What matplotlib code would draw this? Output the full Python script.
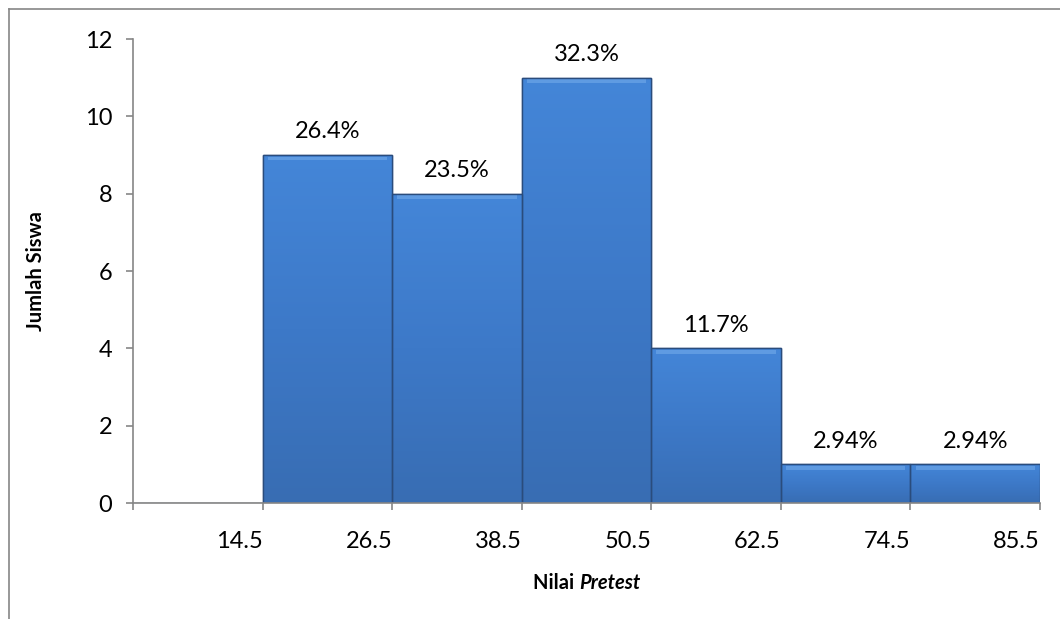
import numpy as np
import matplotlib
matplotlib.use("Agg")
import matplotlib.pyplot as plt
from matplotlib.patches import Rectangle
from matplotlib.lines import Line2D
from matplotlib.colors import LinearSegmentedColormap

# ── Data ─────────────────────────────────────────────────────────────────────
tick_labels = ["", "14.5", "26.5", "38.5", "50.5", "62.5", "74.5", "85.5"]
counts      = [0, 9, 8, 11, 4, 1, 1]
percent     = ["", "26.4%", "23.5%", "32.3%", "11.7%", "2.94%", "2.94%"]

plt.rcParams["font.family"] = ["Lato", "DejaVu Sans"]
FS = 17
FS_LAB = 14.5
AXIS_GRAY = "#868686"

fig = plt.figure(figsize=(10.6, 6.19), dpi=100)
ax = fig.add_axes([133 / 1060, 1 - 503 / 619, (1040 - 133) / 1060, (503 - 39) / 619])

# outer chart border (top + left only visible)
fig.add_artist(Line2D([9 / 1060, 1], [1 - 9 / 619, 1 - 9 / 619], color=AXIS_GRAY, lw=1.2))
fig.add_artist(Line2D([9 / 1060, 9 / 1060], [0, 1 - 9 / 619], color=AXIS_GRAY, lw=1.2))

# vertical gradient fill for the bars
grad = np.linspace(0, 1, 256).reshape(-1, 1)
cmap = LinearSegmentedColormap.from_list("bar", ["#386db3", "#3d79c8", "#4486d8"])

bars = ax.bar(np.arange(len(counts)), counts, width=1.0, align="edge",
              color="#3e7dcd", edgecolor="#2a4c7c", linewidth=1.0, zorder=2)
for b, h in zip(bars, counts):
    if h <= 0:
        continue
    x0, w = b.get_x(), b.get_width()
    im = ax.imshow(grad, extent=(x0, x0 + w, 0, h), origin="lower", cmap=cmap,
                   aspect="auto", zorder=2.1, interpolation="bicubic")
    im.set_clip_path(b)
    # bevel highlight on top
    ax.add_patch(Rectangle((x0 + 0.04, h - 0.14), w - 0.08, 0.1,
                           facecolor="#72aaea", edgecolor="none", alpha=0.6, zorder=2.2))
    ax.add_patch(Rectangle((x0, 0), w, h, facecolor="none",
                           edgecolor="#2a4c7c", linewidth=1.0, zorder=2.3))

for i, (h, p) in enumerate(zip(counts, percent)):
    if p:
        ax.annotate(p, (i + 0.5, h), xytext=(0, 9), textcoords="offset points",
                    ha="center", va="bottom", fontsize=FS, color="black")

ax.set_xlim(0, len(counts))
ax.set_ylim(0, 12)
ax.set_yticks(range(0, 13, 2))
ax.set_xticks(range(len(tick_labels)))
ax.set_xticklabels(tick_labels)
for lab in ax.get_xticklabels():
    lab.set_horizontalalignment("right")

for s in ["top", "right"]:
    ax.spines[s].set_visible(False)
for s in ["left", "bottom"]:
    ax.spines[s].set_color(AXIS_GRAY)
    ax.spines[s].set_linewidth(1.2)
ax.tick_params(axis="both", direction="out", length=5, width=1.2, color=AXIS_GRAY,
               labelsize=FS)
ax.tick_params(axis="x", pad=15)
ax.tick_params(axis="y", pad=10)

ax.set_ylabel("Jumlah Siswa", fontsize=FS_LAB, fontweight="bold")
ax.yaxis.set_label_coords((46 - 133) / 907, 0.5)

# x label: "Nilai " bold + "Pretest" bold italic, centred under the axes
t1 = fig.text(0, 1 - 583 / 619, "Nilai ", fontsize=FS_LAB, fontweight="bold", va="center")
t2 = fig.text(0, 1 - 583 / 619, "Pretest", fontsize=FS_LAB, fontweight="bold",
              style="italic", va="center")
fig.canvas.draw()
r = fig.canvas.get_renderer()
w1 = t1.get_window_extent(r).width
w2 = t2.get_window_extent(r).width
cx = (133 + 1040) / 2
start = cx - (w1 + w2) / 2
t1.set_x(start / 1060)
t2.set_x((start + w1) / 1060)

fig.savefig("out.png", dpi=100)
